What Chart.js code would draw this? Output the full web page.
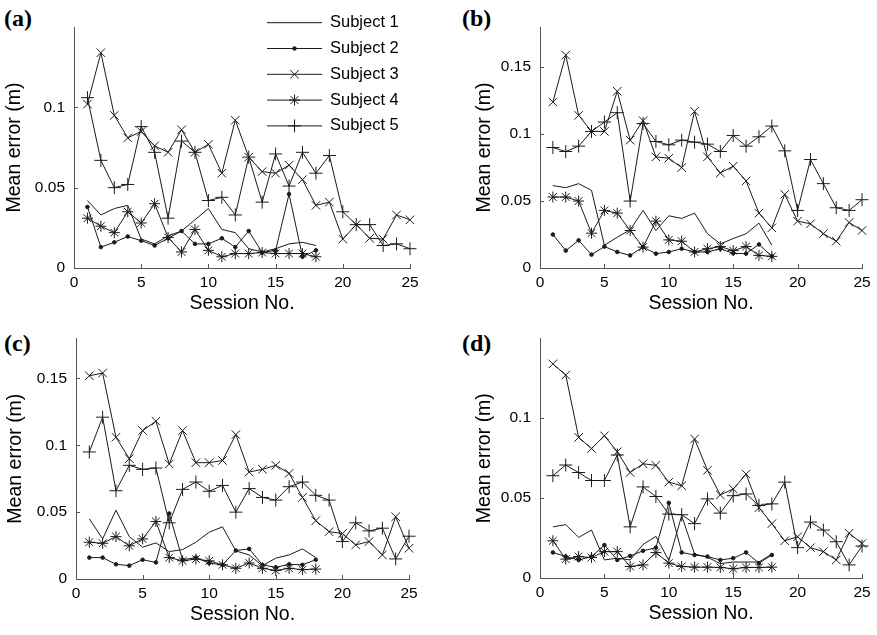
<!DOCTYPE html>
<html>
<head>
<meta charset="utf-8">
<script src="https://cdn.jsdelivr.net/npm/chart.js@4.4.1/dist/chart.umd.min.js"></script>
<style>
body { margin: 0; background: #fff; width: 877px; height: 635px; position: relative; overflow: hidden; }
canvas { position: absolute; }
.tag { position: absolute; font: bold 24px 'Liberation Serif', 'Times New Roman', serif; line-height: 24px; color: #000; }
</style>
</head>
<body>
<div class="tag" style="left:4px;top:6px">(a)</div>
<div class="tag" style="left:462px;top:6px">(b)</div>
<div class="tag" style="left:4px;top:331px">(c)</div>
<div class="tag" style="left:462px;top:331px">(d)</div>
<canvas id="panelA" width="438" height="320" style="left:0;top:0;width:438px;height:320px"></canvas>
<canvas id="panelB" width="437" height="320" style="left:440px;top:0;width:437px;height:320px"></canvas>
<canvas id="panelC" width="438" height="315" style="left:0;top:320px;width:438px;height:315px"></canvas>
<canvas id="panelD" width="437" height="315" style="left:440px;top:320px;width:437px;height:315px"></canvas>
<script>
// sessions and tick labels
const sessions = [1, 2, 3, 4, 5, 6, 7, 8, 9, 10, 11, 12, 13, 14, 15, 16, 17, 18, 19, 20, 21, 22, 23, 24, 25];
const xTicks = [0, 5, 10, 15, 20, 25];
const yTicksShort = [0, 0.05, 0.1];
const yTicksTall = [0, 0.05, 0.1, 0.15];
const subjects = ['Subject 1', 'Subject 2', 'Subject 3', 'Subject 4', 'Subject 5'];

// (a)
const a1 = [0.042, 0.033, 0.037, 0.039, 0.018, 0.015, 0.020, 0.023, 0.030, 0.037, 0.024, 0.022, 0.012, 0.010, 0.012, 0.015, 0.016, 0.014];
const a2 = [0.038, 0.013, 0.016, 0.0196, 0.017, 0.014, 0.0185, 0.023, 0.015, 0.015, 0.0185, 0.013, 0.023, 0.0096, 0.011, 0.046, 0.007, 0.011];
const a3 = [0.102, 0.134, 0.095, 0.081, 0.085, 0.076, 0.072, 0.086, 0.072, 0.077, 0.059, 0.092, 0.069, 0.060, 0.059, 0.064, 0.055, 0.039, 0.041, 0.018, 0.027, 0.0185, 0.018, 0.033, 0.030];
const a4 = [0.031, 0.026, 0.022, 0.035, 0.028, 0.040, 0.019, 0.010, 0.024, 0.011, 0.007, 0.009, 0.009, 0.0096, 0.009, 0.009, 0.009, 0.007];
const a5 = [0.106, 0.067, 0.050, 0.052, 0.088, 0.072, 0.031, 0.079, 0.072, 0.042, 0.044, 0.033, 0.069, 0.041, 0.071, 0.051, 0.072, 0.059, 0.070, 0.035, 0.027, 0.027, 0.014, 0.015, 0.012];

// (b)
const b1 = [0.0615, 0.060, 0.063, 0.058, 0.017, 0.023, 0.0285, 0.043, 0.028, 0.039, 0.037, 0.041, 0.0256, 0.018, 0.022, 0.0256, 0.0335, 0.017];
const b2 = [0.025, 0.013, 0.0206, 0.010, 0.016, 0.012, 0.0094, 0.0156, 0.0107, 0.012, 0.0144, 0.012, 0.012, 0.0144, 0.011, 0.0107, 0.0176, 0.0087];
const b3 = [0.124, 0.159, 0.114, 0.102, 0.102, 0.132, 0.0955, 0.110, 0.083, 0.082, 0.075, 0.117, 0.083, 0.071, 0.076, 0.065, 0.041, 0.030, 0.055, 0.035, 0.033, 0.0256, 0.020, 0.034, 0.028];
const b4 = [0.053, 0.053, 0.050, 0.026, 0.043, 0.041, 0.028, 0.0156, 0.035, 0.021, 0.020, 0.012, 0.0144, 0.016, 0.013, 0.016, 0.0094, 0.0087];
const b5 = [0.090, 0.087, 0.091, 0.102, 0.109, 0.116, 0.050, 0.108, 0.0945, 0.092, 0.0955, 0.094, 0.0925, 0.087, 0.099, 0.091, 0.098, 0.106, 0.0875, 0.043, 0.081, 0.063, 0.045, 0.043, 0.051];

// (c)
const c1 = [0.045, 0.030, 0.0515, 0.0317, 0.0238, 0.027, 0.0205, 0.022, 0.0275, 0.035, 0.039, 0.021, 0.018, 0.010, 0.0156, 0.018, 0.0225, 0.016];
const c2 = [0.016, 0.016, 0.011, 0.010, 0.0144, 0.0124, 0.049, 0.0144, 0.016, 0.0119, 0.0106, 0.0213, 0.0225, 0.0106, 0.0087, 0.011, 0.0106, 0.0144];
const c3 = [0.152, 0.154, 0.106, 0.090, 0.111, 0.118, 0.086, 0.111, 0.087, 0.087, 0.0886, 0.108, 0.080, 0.082, 0.085, 0.079, 0.061, 0.0436, 0.0354, 0.034, 0.0255, 0.028, 0.018, 0.0465, 0.023];
const c4 = [0.0275, 0.0267, 0.0317, 0.0248, 0.030, 0.043, 0.016, 0.0136, 0.0149, 0.0136, 0.0106, 0.008, 0.012, 0.008, 0.0064, 0.008, 0.007, 0.0074];
const c5 = [0.095, 0.121, 0.066, 0.085, 0.082, 0.083, 0.042, 0.067, 0.0725, 0.0656, 0.070, 0.050, 0.0676, 0.061, 0.059, 0.069, 0.0725, 0.0626, 0.059, 0.028, 0.042, 0.036, 0.038, 0.015, 0.032];

// (d)
const d1 = [0.032, 0.0334, 0.0254, 0.030, 0.0113, 0.0124, 0.0113, 0.021, 0.026, 0.011, 0.039, 0.015, 0.013, 0.009, 0.010, 0.010, 0.010, 0.015];
const d2 = [0.016, 0.0134, 0.0113, 0.0134, 0.0206, 0.0113, 0.0138, 0.017, 0.019, 0.047, 0.016, 0.0144, 0.0134, 0.0113, 0.0124, 0.016, 0.0093, 0.0144];
const d3 = [0.134, 0.127, 0.088, 0.081, 0.089, 0.079, 0.066, 0.0715, 0.0705, 0.060, 0.0577, 0.087, 0.0674, 0.052, 0.0557, 0.065, 0.044, 0.034, 0.0233, 0.0258, 0.019, 0.0165, 0.0113, 0.028, 0.0216];
const d4 = [0.0233, 0.0118, 0.0134, 0.0128, 0.0165, 0.0165, 0.0072, 0.0082, 0.0159, 0.0093, 0.0072, 0.0068, 0.0068, 0.0066, 0.0058, 0.0066, 0.0066, 0.0068];
const d5 = [0.064, 0.0707, 0.066, 0.061, 0.061, 0.077, 0.032, 0.057, 0.051, 0.040, 0.0396, 0.034, 0.0495, 0.0406, 0.0515, 0.0526, 0.0454, 0.0464, 0.060, 0.019, 0.035, 0.030, 0.0227, 0.0082, 0.020];

const INK = '#1a1a1a';
const AXIS = '#555';
Chart.defaults.font.family = "'Liberation Sans', Arial, sans-serif";
Chart.defaults.color = '#000';

// marker per subject: plain, dot, x, asterisk, plus
const MARKERS = [
    { pointStyle: false, pointRadius: 0 },
    { pointStyle: 'circle', pointRadius: 1.8 },
    { pointStyle: 'crossRot', pointRadius: 6 },
    { pointStyle: 'star', pointRadius: 5.5 },
    { pointStyle: 'cross', pointRadius: 6.5 }
];

// matlab-style ticks pointing into the axes
const innerTicks = {
    id: 'innerTicks',
    afterDraw(chart) {
        const { ctx, chartArea: area, scales } = chart;
        ctx.save();
        ctx.strokeStyle = AXIS;
        ctx.lineWidth = 1;
        ctx.beginPath();
        scales.x.ticks.forEach(t => {
            const px = Math.round(scales.x.getPixelForValue(t.value)) + 0.5;
            ctx.moveTo(px, area.bottom);
            ctx.lineTo(px, area.bottom - 4);
        });
        scales.y.ticks.forEach(t => {
            const py = Math.round(scales.y.getPixelForValue(t.value)) + 0.5;
            ctx.moveTo(area.left, py);
            ctx.lineTo(area.left + 4, py);
        });
        ctx.stroke();
        ctx.restore();
    }
};

// legend drawn as line + marker, like the matlab one
const lineLegend = {
    id: 'lineLegend',
    afterDraw(chart, args, opts) {
        if (!opts.show) return;
        const { ctx } = chart;
        ctx.save();
        ctx.font = "16.5px 'Liberation Sans', Arial, sans-serif";
        ctx.textBaseline = 'middle';
        ctx.fillStyle = '#000';
        chart.data.datasets.forEach((ds, i) => {
            const y = opts.y + i * opts.dy;
            ctx.strokeStyle = INK;
            ctx.fillStyle = INK;
            ctx.lineWidth = 1;
            ctx.beginPath();
            ctx.moveTo(opts.x, y);
            ctx.lineTo(opts.x + opts.len, y);
            ctx.stroke();
            if (ds.pointStyle && Chart.helpers && Chart.helpers.drawPoint) {
                Chart.helpers.drawPoint(ctx, {
                    pointStyle: ds.pointStyle, radius: ds.pointRadius, rotation: 0, borderWidth: 1
                }, opts.x + opts.len / 2, y);
            }
            ctx.fillStyle = '#000';
            ctx.fillText(ds.label, opts.x + opts.len + 8, y);
        });
        ctx.restore();
    }
};

function series(vals) {
    return vals.map((v, i) => ({ x: sessions[i], y: v }));
}

function makePanel(canvasId, lists, box) {
    const ctx = document.getElementById(canvasId).getContext('2d');
    return new Chart(ctx, {
        type: 'line',
        data: {
            datasets: lists.map((vals, i) => ({
                label: subjects[i],
                data: series(vals),
                borderColor: INK,
                backgroundColor: INK,
                borderWidth: 1,
                pointStyle: MARKERS[i].pointStyle,
                pointRadius: MARKERS[i].pointRadius,
                pointBorderWidth: 1,
                pointBorderColor: INK,
                pointBackgroundColor: INK,
                tension: 0,
                clip: false
            }))
        },
        options: {
            responsive: false,
            animation: false,
            layout: { padding: box.padding },
            plugins: {
                legend: { display: false },
                tooltip: { enabled: false },
                lineLegend: box.legend || { show: false }
            },
            scales: {
                x: {
                    type: 'linear',
                    min: 0,
                    max: 25,
                    grid: { display: false, drawTicks: false },
                    border: { display: true, color: AXIS, width: 1 },
                    afterBuildTicks: s => { s.ticks = xTicks.map(v => ({ value: v })); },
                    afterFit: s => { s.height = box.xHeight; },
                    ticks: { padding: 5, font: { size: 15.5 }, callback: v => String(v), maxRotation: 0 },
                    title: {
                        display: true, text: 'Session No.',
                        font: { size: 19.5, lineHeight: 1.2 },
                        padding: { top: 0, bottom: box.xTitlePad }
                    }
                },
                y: {
                    min: 0,
                    max: box.yMax,
                    grid: { display: false, drawTicks: false },
                    border: { display: true, color: AXIS, width: 1 },
                    afterBuildTicks: s => { s.ticks = box.yTicks.map(v => ({ value: v })); },
                    afterFit: s => { s.width = box.yWidth; },
                    ticks: { padding: 9, font: { size: 15.5 }, callback: v => String(v) },
                    title: {
                        display: true, text: 'Mean error (m)',
                        font: { size: 19.5, lineHeight: 1.2 },
                        padding: { top: 3.3, bottom: 0 }
                    }
                }
            }
        },
        plugins: [innerTicks, lineLegend]
    });
}

makePanel('panelA', [a1, a2, a3, a4, a5], {
    padding: { left: 0, top: 27, right: 28, bottom: 0 }, yWidth: 74, xHeight: 52, xTitlePad: 4.3,
    yMax: 0.15, yTicks: yTicksShort,
    legend: { show: true, x: 267, y: 22.7, dy: 25.8, len: 55 }
});
makePanel('panelB', [b1, b2, b3, b4, b5], {
    padding: { left: 30, top: 27, right: 15, bottom: 0 }, yWidth: 70, xHeight: 52, xTitlePad: 4.3,
    yMax: 0.18, yTicks: yTicksTall
});
makePanel('panelC', [c1, c2, c3, c4, c5], {
    padding: { left: 1, top: 18, right: 29, bottom: 0 }, yWidth: 75, xHeight: 56, xTitlePad: 8.3,
    yMax: 0.18, yTicks: yTicksTall
});
makePanel('panelD', [d1, d2, d3, d4, d5], {
    padding: { left: 30, top: 17, right: 15, bottom: 0 }, yWidth: 70, xHeight: 57, xTitlePad: 9.3,
    yMax: 0.15, yTicks: yTicksShort
});
</script>
</body>
</html>
